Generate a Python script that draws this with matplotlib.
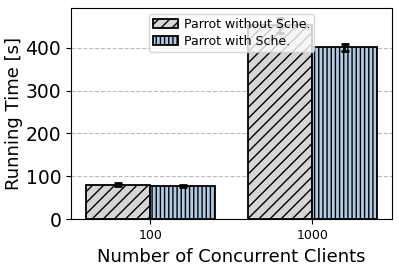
import numpy as np
import matplotlib
matplotlib.use("Agg")
import matplotlib.pyplot as plt

clients = ["100", "1000"]
without_sche = [81, 452]
without_err = [3, 17]
with_sche = [78, 401]
with_err = [3, 8]

plt.rcParams['hatch.linewidth'] = 1.0

fig, ax = plt.subplots(figsize=(3.99, 2.69), dpi=100)
x = np.arange(len(clients))
w = 0.4

err_kw = dict(capsize=3, capthick=2, elinewidth=1.5, ecolor='black')
ax.bar(x - w, without_sche, w, align='edge', yerr=without_err, error_kw=err_kw,
       color='#d6d6d6', edgecolor='black', hatch='///', linewidth=1.3,
       label='Parrot without Sche.', zorder=3)
ax.bar(x, with_sche, w, align='edge', yerr=with_err, error_kw=err_kw,
       color='#b0cbe3', edgecolor='black', hatch='||||', linewidth=1.3,
       label='Parrot with Sche.', zorder=3)

ax.set_xticks(x)
ax.set_xticklabels(clients, fontsize=9)
ax.tick_params(axis='y', labelsize=13.5)
ax.set_yticks([0, 100, 200, 300, 400])
ax.set_xlabel('Number of Concurrent Clients', fontsize=13)
ax.set_ylabel('Running Time [s]', fontsize=13, labelpad=2)
ax.grid(axis='y', linestyle='--', color='#bbbbbb', zorder=0)
ax.legend(loc='upper center', fontsize=9, handlelength=2.0,
          borderpad=0.3, labelspacing=0.3, handletextpad=0.5)

plt.subplots_adjust(left=0.178, right=0.982, top=0.97, bottom=0.185)
plt.savefig('out.png')
